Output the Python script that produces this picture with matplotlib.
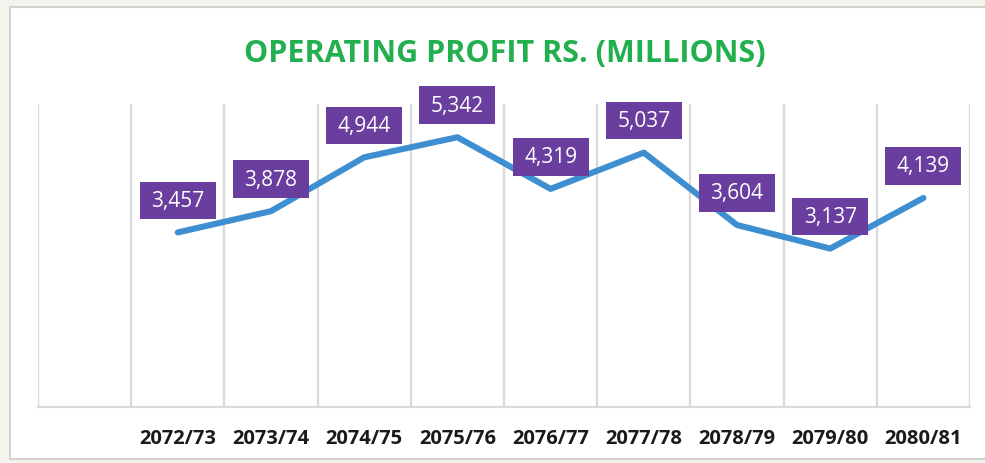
import matplotlib
matplotlib.use("Agg")
import matplotlib.pyplot as plt
from matplotlib.patches import Rectangle
import numpy as np

categories = ["2072/73", "2073/74", "2074/75", "2075/76", "2076/77",
              "2077/78", "2078/79", "2079/80", "2080/81"]
values = [3457, 3878, 4944, 5342, 4319, 5037, 3604, 3137, 4139]
title = "OPERATING PROFIT RS. (MILLIONS)"

W, H = 985, 464
fig = plt.figure(figsize=(W / 100, H / 100), dpi=100)
fig.patch.set_facecolor("#f3f4ec")
fig.patches.append(Rectangle((10 / W, 4 / H), 1.0, (H - 12) / H, transform=fig.transFigure,
                             facecolor="white", edgecolor="#d2d2d2", lw=1.5, zorder=-5))

ax = fig.add_axes([38 / W, 56 / H, (970 - 38) / W, 303 / H])
ax.set_facecolor("none")
ax.set_zorder(2)

x = np.arange(1, len(categories) + 1)
ax.plot(x, values, color="#3e8ed2", lw=4.4, solid_capstyle="round", solid_joinstyle="round", zorder=3)

for xi, v in zip(x, values):
    ax.annotate(f"{v:,}", (xi, v), xytext=(0, 32), textcoords="offset pixels",
                ha="center", va="center", color="white", fontsize=15,
                family=["Open Sans", "DejaVu Sans"], zorder=5,
                bbox=dict(boxstyle="square,pad=0.55", mutation_aspect=0.72,
                          facecolor="#6a3e9e", edgecolor="none"))

ax.set_xlim(-0.5, len(categories) + 0.5)
ax.set_ylim(0, 6000)
ax.set_xticks(x)
ax.set_xticklabels(categories, fontsize=14.5, fontweight="bold", color="#1a1a1a",
                   family=["Open Sans", "DejaVu Sans"])
ax.set_xticks(np.arange(-0.5, len(categories) + 1.0, 1.0), minor=True)
ax.tick_params(axis="x", which="both", length=0, pad=15)
ax.set_yticks([])
ax.grid(True, which="minor", axis="x", color="#d9d9d9", lw=1.6, zorder=1)
for s in ["left", "right", "top"]:
    ax.spines[s].set_visible(False)
ax.spines["bottom"].set_color("#d9d9d9")
ax.spines["bottom"].set_linewidth(1.6)

fig.text(505 / W, 1 - 54 / H, title, ha="center", va="center", color="#22b04e",
         fontsize=22, fontweight="bold", family=["Open Sans", "DejaVu Sans"])

fig.savefig("out.png", dpi=100, facecolor=fig.get_facecolor())
